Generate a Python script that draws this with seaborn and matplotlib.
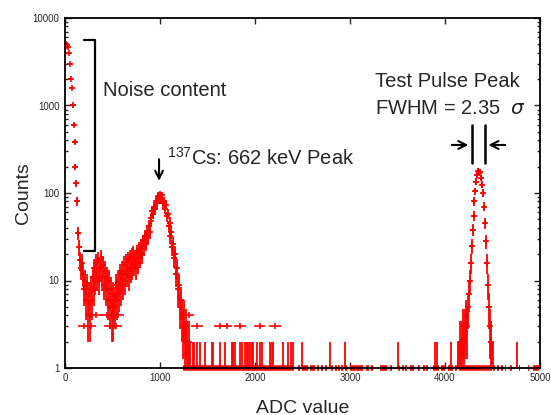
import numpy as np
import pandas as pd
import matplotlib
matplotlib.use("Agg")
import matplotlib.pyplot as plt
import seaborn as sns
from matplotlib.ticker import FixedLocator, FixedFormatter, LogLocator, NullFormatter, NullLocator

# ---------------- data ----------------
# noise + 137Cs region, 10-ADC bins from 0 to 1300
low_adc = np.arange(0, 1310, 10)
low_counts = [
    4600, 5100, 4900, 4700, 4000, 3000, 2000, 1600, 1000, 600, 380, 200, 130, 80, 35, 24, 17, 14,
    16, 12, 8, 10, 6, 9, 4, 7, 4, 8,
    6, 11, 8, 14, 10, 16, 11, 17, 10, 14,
    18, 11, 15, 9, 13, 8, 11, 6, 10, 5,
    8, 4, 7, 4, 6, 5, 9, 6, 10, 7,
    12, 8, 13,
    9, 15, 10, 16, 12, 17, 11, 18, 13, 19,
    14, 20, 15, 18, 14, 21, 16, 23, 18, 25,
    20, 28, 24, 32, 27, 36, 31, 42, 36, 48,
    52, 62, 58, 70, 66, 80, 76, 92, 86, 96,
    84, 94, 76, 82, 66, 72, 54, 58, 42, 46,
    32, 36, 24, 26, 18, 20, 12, 14, 8, 9,
    5, 6, 4, 3, 4, 2, 3, 2, 1, 2,
]

# test pulse peak, 10-ADC bins from 4140 to 4500
tp_adc = np.arange(4140, 4510, 10)
tp_counts = [
    1, 1, 2, 1, 2, 3, 2, 3, 4, 3,
    5, 7, 10, 16, 25, 38, 55, 80, 105, 135,
    160, 180, 170, 175, 150, 125, 100, 70, 45, 28,
    16, 9, 5, 3, 2, 1, 1,
]

# isolated single-count bins
sparse_adc = [1320, 1345, 1360, 1386, 1421, 1474, 1544, 1561, 1632, 1684, 1754, 1772,
              1789, 1842, 1860, 1895, 1912, 1930, 1947, 1965, 1982, 2018, 2053, 2070,
              2158, 2175, 2193, 2298, 2351, 2376, 2397, 2491, 2793, 2951, 3509, 3898,
              3912, 4063, 4754]
sparse_counts = [1] * len(sparse_adc)

# wide low-count bins
wide_adc = [200, 270, 470, 540, 330, 440, 560, 1300, 1390, 1630, 1700, 1840, 2050, 2210]
wide_counts = [3, 3, 3, 3, 4, 4, 4, 4, 3, 3, 3, 3, 3, 3]

# floor (count = 1) stretches
floor_start = [1240, 2450, 2490, 2580, 2650, 2690, 2740, 2800, 2840, 2870, 2910, 2950,
               3000, 3170, 3220, 3320, 3420, 3510, 3550, 3580, 3630, 3720, 3770, 3800,
               3870, 3960, 4030, 4100, 4150, 4510, 4550, 4590, 4630, 4680, 4780, 4870, 4930]
floor_end = [2410, 2470, 2560, 2630, 2670, 2720, 2760, 2820, 2860, 2890, 2930, 2970,
             3140, 3200, 3240, 3390, 3440, 3530, 3570, 3600, 3670, 3740, 3790, 3820,
             3940, 4000, 4080, 4130, 4490, 4530, 4570, 4610, 4640, 4700, 4790, 4880, 4990]

y_ticks = [1, 10, 100, 1000, 10000]
y_labels = ["1", "10", "100", "1000", "10000"]
x_ticks = [0, 1000, 2000, 3000, 4000, 5000]
x_labels = ["0", "1000", "2000", "3000", "4000", "5000"]

# ---------------- style ----------------
sns.set_style("ticks")
plt.rcParams['font.family'] = ['Liberation Sans', 'DejaVu Sans']
plt.rcParams['mathtext.fontset'] = 'custom'
plt.rcParams['mathtext.rm'] = 'Liberation Sans'
plt.rcParams['mathtext.it'] = 'DejaVu Sans:italic'

RED = '#ff0000'

fig = plt.figure(figsize=(5.51, 4.15), dpi=100)
ax = fig.add_axes([65 / 551, 47 / 415, 475 / 551, 350 / 415])

df = pd.DataFrame({
    'adc': np.concatenate([low_adc, tp_adc, sparse_adc]).astype(float),
    'counts': np.concatenate([low_counts, tp_counts, sparse_counts]).astype(float),
})
err = np.sqrt(df['counts'].values)
lower = df['counts'].values - np.maximum(df['counts'].values - err, 0.5)
ax.errorbar(df['adc'], df['counts'], xerr=25, yerr=[lower, err], fmt='none',
            ecolor=RED, elinewidth=1.3, capsize=0)
sns.scatterplot(data=df, x='adc', y='counts', marker='+', s=14, color=RED,
                linewidth=1.2, ax=ax, legend=False, zorder=3)

wide_c = np.array(wide_counts, dtype=float)
ax.errorbar(wide_adc, wide_c, xerr=60, yerr=0.08 * wide_c, fmt='none',
            ecolor=RED, elinewidth=1.2, capsize=0)

ax.hlines([1] * len(floor_start), floor_start, floor_end, colors=RED, lw=4, clip_on=False, zorder=2)

ax.set_yscale('log')
ax.set_xlim(0, 5000)
ax.set_ylim(1, 10000)

ax.yaxis.set_major_locator(FixedLocator(y_ticks))
ax.yaxis.set_major_formatter(FixedFormatter(y_labels))
ax.yaxis.set_minor_locator(LogLocator(base=10, subs=range(2, 10)))
ax.yaxis.set_minor_formatter(NullFormatter())
ax.xaxis.set_major_locator(FixedLocator(x_ticks))
ax.xaxis.set_major_formatter(FixedFormatter(x_labels))
ax.xaxis.set_minor_locator(NullLocator())

ax.tick_params(which='both', direction='in', top=True, right=True, labelsize=7, width=1.0)
ax.tick_params(which='major', length=4)
ax.tick_params(which='minor', length=2.5)
ax.tick_params(axis='y', pad=4)
for s in ax.spines.values():
    s.set_linewidth(1.3)
    s.set_color('black')
    s.set_zorder(5)

ax.set_xlabel('ADC value', fontsize=14, labelpad=12)
ax.set_ylabel('Counts', fontsize=14)
ax.yaxis.set_label_coords(-0.07, 0.5)

# ---------------- annotations ----------------
ax.plot([200, 316, 316, 200], [5600, 5600, 21.7, 21.7], color='black', lw=1.6)
ax.text(400, 1465, 'Noise content', fontsize=14.5, ha='left', va='center')

ax.annotate('', xy=(990, 128), xytext=(990, 262),
            arrowprops=dict(arrowstyle='->', color='black', lw=1.5, mutation_scale=14))
ax.text(1074, 255, r'$^{137}$Cs: 662 keV Peak', fontsize=14.5, ha='left', va='center')

ax.text(3263, 1860, 'Test Pulse Peak', fontsize=14.5, ha='left', va='center')
ax.text(3263, 936, r'FWHM = 2.35  $\mathit{\sigma}$', fontsize=14.5, ha='left', va='center')
ax.plot([4281, 4281], [220, 600], color='black', lw=1.8)
ax.plot([4421, 4421], [220, 600], color='black', lw=1.8)
ax.annotate('', xy=(4275, 354), xytext=(4042, 354),
            arrowprops=dict(arrowstyle='->', color='black', lw=1.5, mutation_scale=14))
ax.annotate('', xy=(4427, 354), xytext=(4663, 354),
            arrowprops=dict(arrowstyle='->', color='black', lw=1.5, mutation_scale=14))

fig.savefig('out.png', dpi=100)
